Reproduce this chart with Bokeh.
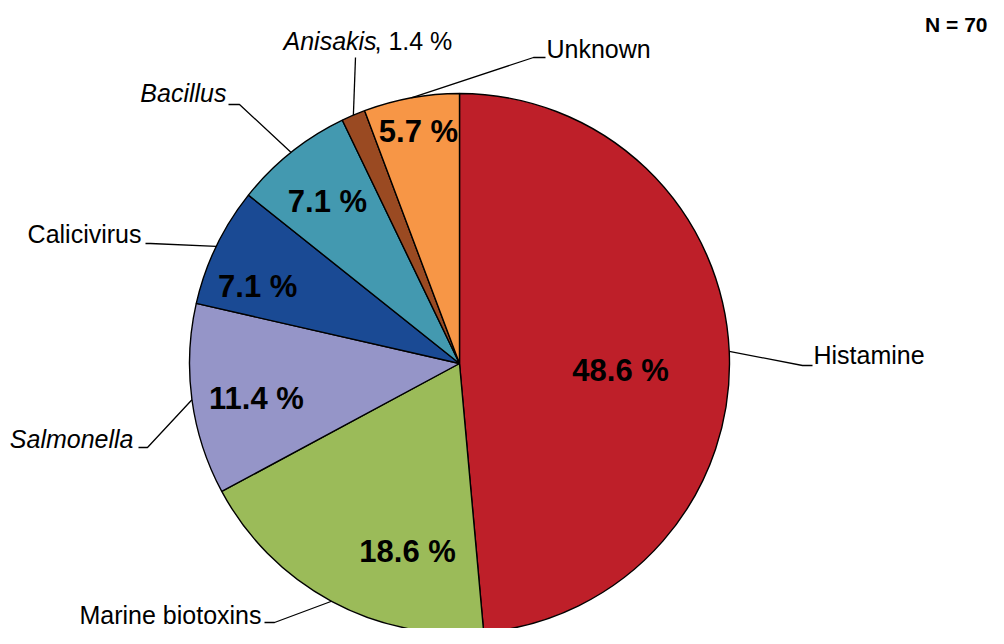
import math
from bokeh.plotting import figure
from bokeh.models import Range1d
from bokeh.core.properties import value
from bokeh.embed import file_html
from bokeh.resources import INLINE

# ---------------- data ----------------
categories = ["Histamine", "Marine biotoxins", "Salmonella", "Calicivirus",
              "Bacillus", "Anisakis", "Unknown"]
counts = [34, 13, 8, 5, 5, 1, 4]
pct_labels = ["48.6 %", "18.6 %", "11.4 %", "7.1 %", "7.1 %", "1.4 %", "5.7 %"]
italic_names = [False, False, True, False, True, True, False]
n_label = "N = 70"

# ---------------- style ----------------
colors = ["#BE1F29", "#9BBB59", "#9595C8", "#1A4A94", "#4399B0", "#9A4A22", "#F79646"]
FONT = value("Liberation Sans")
W, H = 988, 628

def dy(screen_y):
    # screen pixel y -> data y
    return H - screen_y

cx, cy, R = 459, dy(363), 270

# label placement inside slices: (radius fraction, angle nudge in degrees)
inside_place = [(0.597, -5.06), (0.722, 12.83), (0.763, 2.07), (0.80, 4.84),
                (0.774, 0.6), None, (0.873, -0.27)]
# leader-line elbows (screen coords)
leaders = {
    "Histamine": [(802, 365), (812, 365)],
    "Marine biotoxins": [(274, 622), (264, 622)],
    "Salmonella": [(147, 447), (138, 447)],
    "Calicivirus": [(150, 243), (145, 243)],
    "Bacillus": [(239, 104), (228, 104)],
    "Anisakis": [(355, 57)],
    "Unknown": [(533, 57), (545, 57)],
}
# text anchors: (x, vertical centre of capitals, align)
name_text = {
    "Histamine": (813, 354, "left"),
    "Marine biotoxins": (261, 614, "right"),
    "Salmonella": (133, 438, "right"),
    "Calicivirus": (141, 233, "right"),
    "Bacillus": (226, 92, "right"),
    "Anisakis": (283, 40, "left"),
    "Unknown": (546, 48, "left"),
}

p = figure(width=W, height=H, x_range=Range1d(0, W), y_range=Range1d(0, H),
           x_axis_type=None, y_axis_type=None, toolbar_location=None,
           output_backend="svg", min_border=0)
p.grid.visible = False
p.outline_line_color = None
p.background_fill_color = "white"
p.border_fill_color = "white"

total = sum(counts)
cum = 0
starts, ends, mids = [], [], []
for c in counts:
    a0 = math.pi / 2 - 2 * math.pi * cum / total
    cum += c
    a1 = math.pi / 2 - 2 * math.pi * cum / total
    starts.append(a0)
    ends.append(a1)
    mids.append((a0 + a1) / 2)

p.wedge(x=[cx] * len(counts), y=[cy] * len(counts), radius=R,
        start_angle=starts, end_angle=ends, direction="clock",
        fill_color=colors, line_color="black", line_width=1.4)

# percentage labels inside slices
for i, place in enumerate(inside_place):
    if place is None:
        continue
    frac, nudge = place
    a = mids[i] + math.radians(nudge)
    p.text(x=[cx + frac * R * math.cos(a)], y=[cy + frac * R * math.sin(a)],
           text=[pct_labels[i]], text_font=FONT, text_font_size="31px",
           text_font_style="bold", text_align="center", text_baseline="middle",
           text_color="black")

# leader lines
xs, ys = [], []
for i, name in enumerate(categories):
    ax = cx + R * math.cos(mids[i])
    ay = cy + R * math.sin(mids[i])
    pts = leaders[name]
    xs.append([ax] + [pt[0] for pt in pts])
    ys.append([ay] + [dy(pt[1]) for pt in pts])
p.multi_line(xs=xs, ys=ys, line_color="black", line_width=1.3)

# category names
for i, name in enumerate(categories):
    tx, ty, align = name_text[name]
    p.text(x=[tx], y=[dy(ty)], text=[name], text_font=FONT, text_font_size="25px",
           text_font_style="italic" if italic_names[i] else "normal",
           text_align=align, text_baseline="middle", text_color="black")
    if name == "Anisakis":
        p.text(x=[374], y=[dy(ty)], text=[", " + pct_labels[i]], text_font=FONT,
               text_font_size="25px", text_align="left",
               text_baseline="middle", text_color="black")

p.text(x=[987], y=[dy(24)], text=[n_label], text_font=FONT, text_font_size="21px",
       text_font_style="bold", text_align="right", text_baseline="middle",
       text_color="black")

open("out.html", "w").write(file_html(p, INLINE))
